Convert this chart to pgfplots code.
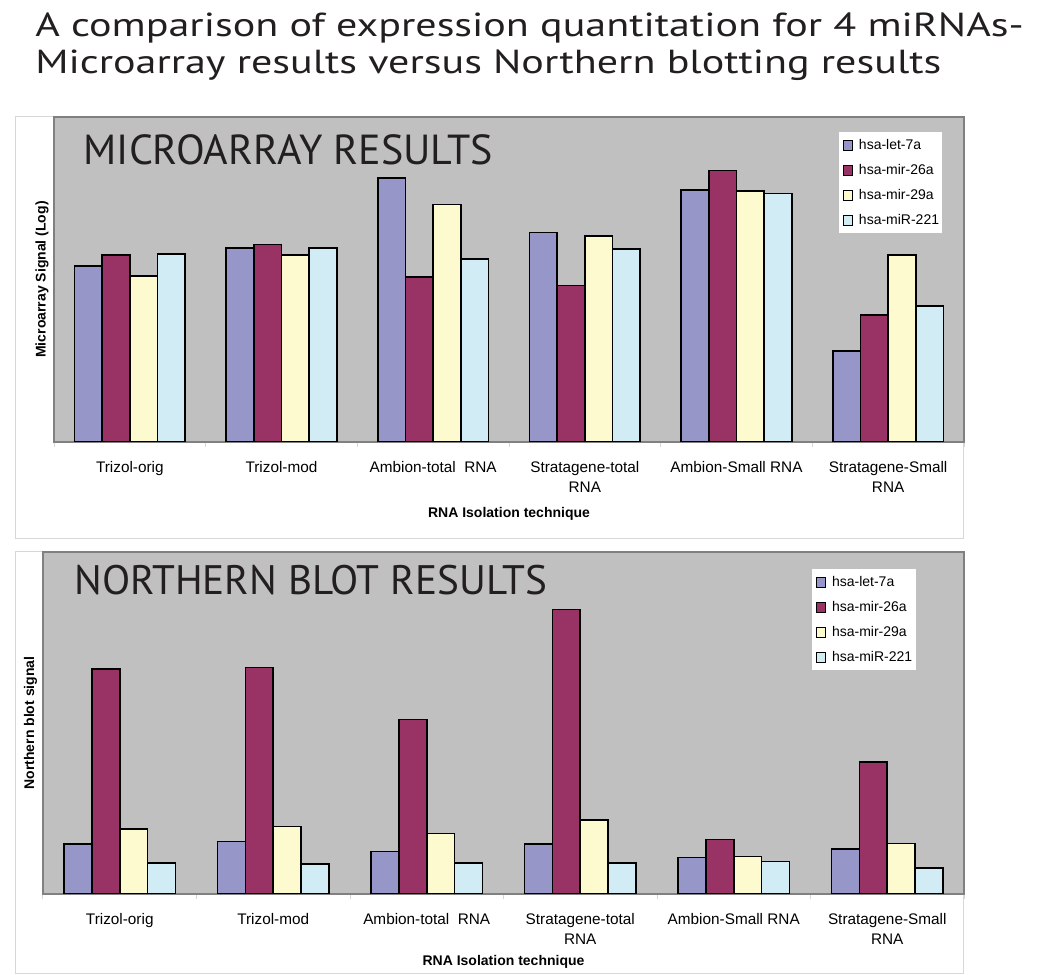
\documentclass[border=0pt]{standalone}
\usepackage{fontspec}
\setmainfont{Liberation Sans}
\newfontfamily\titlefont{PT Sans}
\usepackage{pgfplots}
\usepackage{pgfplotstable}
\pgfplotsset{compat=1.18}

\definecolor{cA}{RGB}{150,150,200}
\definecolor{cB}{RGB}{153,51,102}
\definecolor{cC}{RGB}{254,250,208}
\definecolor{cD}{RGB}{210,236,245}
\definecolor{bggrey}{RGB}{192,192,192}
\definecolor{axgrey}{RGB}{128,128,128}
\definecolor{boxgrey}{RGB}{215,215,215}
\definecolor{titletext}{RGB}{35,31,32}

\pgfplotstableread{
x a b c d
0 176 186.7 166 187.7
1 194 197.3 186.7 194
2 264 164.7 237.3 182.7
3 209.3 156.3 206 192.7
4 252 271.3 251 248.3
5 90.7 127 186.7 135.7
}\micro

\pgfplotstableread{
x a b c d
0 49.7 225 65 31
1 52.3 226.3 67.3 30
2 42.3 174.3 60.3 31
3 49.7 284.3 73.7 31
4 36.3 54.3 37.3 32.3
5 44.7 131.7 50.3 25.7
}\north

\pgfplotsset{
  sq/.style={draw=black, line width=1.2pt, fill=#1,
    legend image code/.code={\draw[fill=#1,draw=black,line width=0.6pt] (0pt,-3.6pt) rectangle (7.2pt,3.6pt);}},
  panel/.style={
    scale only axis, ybar=0pt, bar width=0.182,
    xmin=-0.5, xmax=5.5, ymin=0,
    axis background/.style={fill=bggrey},
    axis line style={draw=axgrey, line width=0.9pt},
    xtick={0,...,5}, major tick length=0pt,
    minor xtick={-0.5,0.5,...,5.5}, minor tick length=4pt, tick align=outside,
    xtick pos=bottom,
    minor tick style={draw=boxgrey, line width=0.75pt},
    ytick=\empty,
    xticklabels={Trizol-orig, Trizol-mod, {Ambion-total\ \ RNA}, {Stratagene-total\\RNA}, {Ambion-Small RNA}, {Stratagene-Small\\RNA}},
    xticklabel style={font=\fontsize{11.5}{15}\selectfont, align=center, inner sep=0pt, anchor=north, yshift=-14.4pt},
    xlabel={RNA Isolation technique},
    legend cell align=left,
    legend style={draw=none, fill=white, font=\fontsize{10.5}{12}\selectfont,
      nodes={inner sep=0pt, text height=8pt, text depth=2pt},
      row sep=8.75pt, inner xsep=2.5pt, inner ysep=4.75pt,
      /tikz/every odd column/.append style={column sep=4.5pt}},
  }
}

\begin{document}
\begin{tikzpicture}[x=0.75pt,y=0.75pt]
\path[use as bounding box] (0,0) rectangle (1043,975);

\node[anchor=base west, inner sep=0pt, text=titletext, font=\titlefont\fontsize{25}{28}\selectfont] at (35,938) {\scalebox{1.262}[1]{A comparison of expression quantitation for 4 miRNAs-}};
\node[anchor=base west, inner sep=0pt, text=titletext, font=\titlefont\fontsize{25}{28}\selectfont] at (35,901) {\scalebox{1.262}[1]{Microarray results versus Northern blotting results}};

\draw[draw=boxgrey, line width=0.75pt, fill=white] (15,436) rectangle (963,858);
\draw[draw=boxgrey, line width=0.75pt, fill=white] (15,1) rectangle (963,423);

\begin{axis}[panel,
  at={(40.5pt,399.75pt)}, anchor=south west,
  width=682.5pt, height=243.75pt, ymax=325,
  ylabel={Microarray Signal (Log)},
  ylabel style={font=\bfseries\fontsize{10.5}{12}\selectfont, at={(axis description cs:-0.0132,0.5)}, anchor=center},
  xlabel style={font=\bfseries\fontsize{10.5}{12}\selectfont, at={(axis description cs:0.5,-0.2215)}, anchor=center},
  legend style={at={(0.8626,0.954)}, anchor=north west},
]
\addplot[sq=cA, bar shift=-0.273] table[x=x,y=a] {\micro};
\addplot[sq=cB, bar shift=-0.091] table[x=x,y=b] {\micro};
\addplot[sq=cC, bar shift=0.091] table[x=x,y=c] {\micro};
\addplot[sq=cD, bar shift=0.273] table[x=x,y=d] {\micro};
\legend{hsa-let-7a, hsa-mir-26a, hsa-mir-29a, hsa-miR-221}
\node[anchor=base west, inner sep=0pt, text=titletext, font=\titlefont\fontsize{31.5}{31.5}\selectfont] at (axis description cs:0.0322,0.8545) {MICROARRAY RESULTS};
\end{axis}

\begin{axis}[panel,
  at={(32.25pt,60.75pt)}, anchor=south west,
  width=690.75pt, height=256.5pt, ymax=342,
  ylabel={Northern blot signal},
  ylabel style={font=\bfseries\fontsize{10.5}{12}\selectfont, at={(axis description cs:-0.0134,0.5)}, anchor=center},
  xlabel style={font=\bfseries\fontsize{10.5}{12}\selectfont, at={(axis description cs:0.5,-0.198)}, anchor=center},
  legend style={at={(0.835,0.950)}, anchor=north west},
]
\addplot[sq=cA, bar shift=-0.273] table[x=x,y=a] {\north};
\addplot[sq=cB, bar shift=-0.091] table[x=x,y=b] {\north};
\addplot[sq=cC, bar shift=0.091] table[x=x,y=c] {\north};
\addplot[sq=cD, bar shift=0.273] table[x=x,y=d] {\north};
\legend{hsa-let-7a, hsa-mir-26a, hsa-mir-29a, hsa-miR-221}
\node[anchor=base west, inner sep=0pt, text=titletext, font=\titlefont\fontsize{30.9}{30.9}\selectfont] at (axis description cs:0.0337,0.877) {NORTHERN BLOT RESULTS};
\end{axis}
\end{tikzpicture}
\end{document}
